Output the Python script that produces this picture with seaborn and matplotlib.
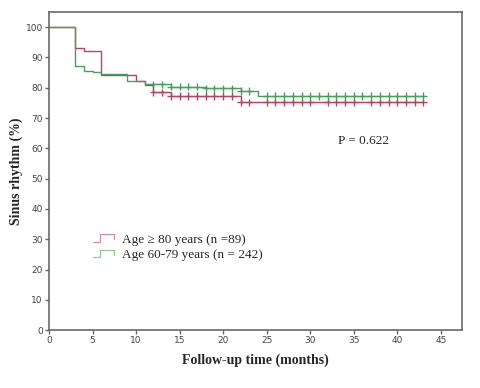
import numpy as np
import pandas as pd
import matplotlib
matplotlib.use('Agg')
import matplotlib.pyplot as plt
from matplotlib.lines import Line2D
from matplotlib.legend_handler import HandlerLine2D
import seaborn as sns

# step points (months, % in sinus rhythm)
old_t = [0, 3, 4, 6, 10, 11, 12, 14, 22, 43]
old_s = [100, 93.0, 92.0, 84.3, 82.2, 80.8, 78.5, 77.2, 75.2, 75.2]
young_t = [0, 3, 4, 5, 6, 9, 11, 14, 18, 22, 24, 43]
young_s = [100, 87.1, 85.7, 85.3, 84.4, 82.2, 81.1, 80.4, 79.8, 79.0, 77.3, 77.3]

# censored times
old_cens = [12, 13, 14, 15, 16, 17, 18, 19, 20, 21, 22, 23, 25, 26, 27, 28, 29, 30,
            32, 33, 34, 35, 37, 38, 39, 40, 41, 42, 43]
young_cens = [12, 13, 14, 15, 16, 17, 18, 19, 20, 21, 22, 23, 25, 26, 27, 28, 29, 30,
              31, 32, 33, 34, 35, 36, 37, 38, 39, 40, 41, 42, 43]

labels = ['Age \u2265 80 years (n =89)', 'Age 60-79 years (n = 242)']
red = '#b8435c'
green = '#45a05a'


def level_at(ts, ss, x):
    i = np.searchsorted(ts, x, side='right') - 1
    return np.asarray(ss)[i]


curves = pd.concat([
    pd.DataFrame({'t': old_t, 's': old_s, 'g': labels[0]}),
    pd.DataFrame({'t': young_t, 's': young_s, 'g': labels[1]}),
])
cens = pd.concat([
    pd.DataFrame({'t': old_cens, 's': level_at(old_t, old_s, old_cens), 'g': labels[0]}),
    pd.DataFrame({'t': young_cens, 's': level_at(young_t, young_s, young_cens), 'g': labels[1]}),
])
pal = {labels[0]: red, labels[1]: green}


class StepHandler(HandlerLine2D):
    def create_artists(self, legend, orig_handle, xdescent, ydescent, width, height, fontsize, trans):
        x = np.array([0, 0.35, 0.35, 1.0, 1.0]) * width - xdescent
        y = np.array([0.1, 0.1, 0.9, 0.9, 0.35]) * height - ydescent
        ln = Line2D(x, y, color=orig_handle.get_color(), lw=0.9, alpha=0.6)
        ln.set_transform(trans)
        return [ln]


sns.set_style('white')
plt.rcParams['font.family'] = ['Liberation Serif', 'DejaVu Serif']

fig = plt.figure(figsize=(4.8, 3.88), dpi=100)
ax = fig.add_axes([0.102, 0.149, 0.86, 0.82])

sns.lineplot(data=curves, x='t', y='s', hue='g', palette=pal, drawstyle='steps-post',
             estimator=None, lw=1.0, ax=ax, legend=False)
sns.scatterplot(data=cens, x='t', y='s', hue='g', palette=pal, marker='+', s=30,
                linewidth=1.0, ax=ax, legend=False)

ax.set_xlim(0, 47.4)
ax.set_ylim(0, 105)
ax.set_xticks(range(0, 50, 5))
ax.set_yticks(range(0, 110, 10))
ax.tick_params(direction='out', length=3, width=1, color='#666666', labelsize=6.5,
               labelcolor='#444444', bottom=True, left=True, pad=1.5)
for lab in ax.get_xticklabels() + ax.get_yticklabels():
    lab.set_family('DejaVu Sans')
for sp in ax.spines.values():
    sp.set_color('#6a6a6a')
    sp.set_linewidth(1.2)

ax.set_xlabel('Follow-up time (months)', fontsize=10, fontweight='bold', labelpad=6)
ax.set_ylabel('Sinus rhythm (%)', fontsize=10, fontweight='bold', labelpad=2)

ax.text(33.2, 62.5, 'P = 0.622', fontsize=9.5, va='center')

handles = [Line2D([], [], color=red), Line2D([], [], color=green)]
ax.legend(handles, labels, loc='upper left', bbox_to_anchor=(0.09, 0.325), frameon=False,
          fontsize=9.5, handler_map={Line2D: StepHandler()}, handlelength=1.6,
          handletextpad=0.6, labelspacing=0.25, borderpad=0)

fig.savefig('out.png', dpi=100, facecolor='white')
